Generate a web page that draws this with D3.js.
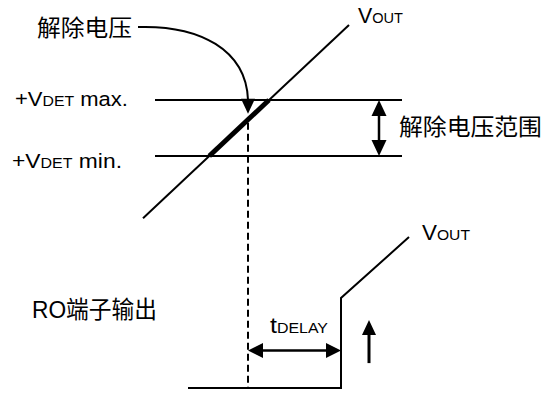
<!DOCTYPE html>
<html>
<head>
<meta charset="utf-8">
<script src="https://cdn.jsdelivr.net/npm/d3@7"></script>
<style>
  body { margin: 0; background: #fff; }
  text { font-family: "Liberation Sans", Arial, "Noto Sans CJK SC", sans-serif; fill: #000; white-space: pre; }
</style>
</head>
<body>
<div id="chart"></div>
<script>
// values (time in ms, voltages in V)
var detLevels = [{key: "max.", v: 3.0}, {key: "min.", v: 2.0}];
var levelSpan = [1.25, 13.6];          // time extent of the two VDET lines
var vinRamp = [[0.65, 0.89], [10.95, 4.34]];   // input ramp [t, V]
var releaseT = 5.9;                    // release point in time
var rangeArrowT = 12.45;
var vout = [[2.9, 0], [10.55, 0], [10.55, 3], [13.95, 5.03]];  // RO output [t, V]
var delayArrowV = 1.25;
var upArrow = {t: 11.95, v0: 0.83, v1: 2.27};

var width = 553, height = 397;

var x = d3.scaleLinear().domain([0, 20]).range([130, 530]);
var yTop = d3.scaleLinear().domain([2, 3]).range([156, 100]);
var yBot = d3.scaleLinear().domain([0, 3]).range([388, 298]);

var svg = d3.select("#chart").append("svg")
    .attr("width", width)
    .attr("height", height)
    .attr("viewBox", [0, 0, width, height]);

var line = d3.line();

// ramp helpers
var rampT = v => vinRamp[0][0] + (v - vinRamp[0][1]) * (vinRamp[1][0] - vinRamp[0][0]) / (vinRamp[1][1] - vinRamp[0][1]);
var rampV = t => vinRamp[0][1] + (t - vinRamp[0][0]) * (vinRamp[1][1] - vinRamp[0][1]) / (vinRamp[1][0] - vinRamp[0][0]);

function arrowHead(px, py, ang, len, hw) {
    // tip at px,py pointing in direction ang (radians)
    var c = Math.cos(ang), s = Math.sin(ang);
    var bx = px - c * len, by = py - s * len;
    var pts = [[px, py], [bx - s * hw, by + c * hw], [bx + s * hw, by - c * hw]];
    svg.append("path").attr("d", line(pts) + "Z").attr("fill", "#000");
}

// VDET levels
svg.append("g").selectAll("line")
    .data(detLevels)
    .join("line")
    .attr("x1", x(levelSpan[0]))
    .attr("x2", x(levelSpan[1]))
    .attr("y1", d => yTop(d.v))
    .attr("y2", d => yTop(d.v))
    .attr("stroke", "#000")
    .attr("stroke-width", 2);

// input ramp
svg.append("path")
    .attr("d", line(vinRamp.map(d => [x(d[0]), yTop(d[1])])))
    .attr("stroke", "#000").attr("stroke-width", 2).attr("fill", "none");

// release range (thick)
var vMin = d3.min(detLevels, d => d.v), vMax = d3.max(detLevels, d => d.v);
svg.append("path")
    .attr("d", line([[x(rampT(vMin)), yTop(vMin)], [x(rampT(vMax)), yTop(vMax)]]))
    .attr("stroke", "#000").attr("stroke-width", 5).attr("fill", "none");

// dashed release line
var relX = x(releaseT), relY = yTop(rampV(releaseT));
svg.append("line")
    .attr("x1", relX).attr("x2", relX)
    .attr("y1", relY + 3).attr("y2", yBot(0))
    .attr("stroke", "#000").attr("stroke-width", 2)
    .attr("stroke-dasharray", "7,4");

// curved arrow from label
svg.append("path")
    .attr("d", `M138,27 C200,25 ${relX - 2},50 ${relX},${relY - 20}`)
    .attr("stroke", "#000").attr("stroke-width", 2).attr("fill", "none");
arrowHead(relX, relY - 6, Math.PI / 2, 15, 7);

// range double arrow
var rx = x(rangeArrowT);
svg.append("line").attr("x1", rx).attr("x2", rx)
    .attr("y1", yTop(vMax) + 10).attr("y2", yTop(vMin) - 10)
    .attr("stroke", "#000").attr("stroke-width", 2.5);
arrowHead(rx, yTop(vMax), -Math.PI / 2, 16, 7.5);
arrowHead(rx, yTop(vMin), Math.PI / 2, 16, 7.5);

// RO output
svg.append("path")
    .attr("d", line(vout.map(d => [x(d[0]), yBot(d[1])])))
    .attr("stroke", "#000").attr("stroke-width", 2).attr("fill", "none");

// tDELAY arrow
var stepX = x(vout[1][0]), dy = yBot(delayArrowV);
svg.append("line").attr("x1", relX + 10).attr("x2", stepX - 10)
    .attr("y1", dy).attr("y2", dy)
    .attr("stroke", "#000").attr("stroke-width", 2.5);
arrowHead(relX, dy, Math.PI, 15, 7.5);
arrowHead(stepX, dy, 0, 15, 7.5);

// up arrow
var ux = x(upArrow.t);
svg.append("line").attr("x1", ux).attr("x2", ux)
    .attr("y1", yBot(upArrow.v0)).attr("y2", yBot(upArrow.v1) + 10)
    .attr("stroke", "#000").attr("stroke-width", 3);
arrowHead(ux, yBot(upArrow.v1), -Math.PI / 2, 15, 7);

// labels: x, baseline, [text, size] parts, width on the picture
function label(lx, ly, parts, w) {
    var t = svg.append("text").attr("transform", `translate(${lx},${ly})`);
    parts.forEach(p => t.append("tspan").attr("font-size", p[1]).text(p[0]));
    var cw = t.node().getComputedTextLength();
    t.attr("transform", `translate(${lx},${ly}) scale(${w / cw},1)`);
}

label(37, 36, [["解除电压", 22.5]], 95);
label(358, 23, [["V", 22], ["OUT", 15]], 45);
label(15, 106, [["+V", 19.5], ["DET", 14], [" max.", 19.5]], 113);
label(12, 167.5, [["+V", 20], ["DET", 14], [" min.", 20]], 110);
label(399, 135, [["解除电压范围", 23]], 143);
label(422, 240, [["V", 21.5], ["OUT", 15]], 48);
label(32, 318, [["RO端子输出", 23.5]], 125);
label(270, 333, [["t", 22], ["DELAY", 14]], 58);
</script>
</body>
</html>
